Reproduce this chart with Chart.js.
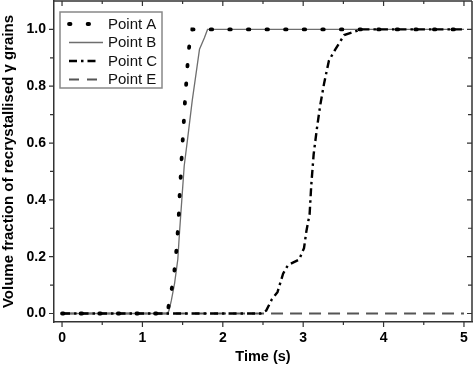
<!DOCTYPE html>
<html>
<head>
<meta charset="utf-8">
<script src="https://cdn.jsdelivr.net/npm/chart.js@4/dist/chart.umd.min.js"></script>
<style>
html,body{margin:0;padding:0;background:#fff;}
#wrap{width:474px;height:366px;}
</style>
</head>
<body>
<div id="wrap"><canvas id="c" width="474" height="366"></canvas></div>
<script>
// ---- data ----
const seriesNames = ['Point A', 'Point B', 'Point C', 'Point E'];

const timeA = [0, 1.31, 1.34, 1.38, 1.41, 1.43, 1.45, 1.465, 1.48, 1.49, 1.51, 1.53, 1.55, 1.57, 1.59, 1.62, 5];
const fracA = [0, 0, 0.05, 0.11, 0.18, 0.25, 0.33, 0.43, 0.50, 0.56, 0.65, 0.75, 0.83, 0.91, 0.96, 1.0, 1.0];

const timeB = [0, 1.31, 1.33, 1.36, 1.40, 1.44, 1.46, 1.49, 1.52, 1.56, 1.62, 1.68, 1.71, 1.77, 1.81, 5];
const fracB = [0, 0, 0.01, 0.046, 0.106, 0.19, 0.28, 0.40, 0.52, 0.61, 0.75, 0.87, 0.93, 0.97, 1.0, 1.0];

const timeC = [0, 2.47, 2.54, 2.61, 2.68, 2.75, 2.81, 2.95, 3.01, 3.04, 3.08, 3.10, 3.13, 3.17, 3.21, 3.26, 3.32, 3.40, 3.51, 3.72, 5];
const fracC = [0, 0, 0.01, 0.05, 0.075, 0.14, 0.17, 0.19, 0.23, 0.29, 0.35, 0.45, 0.56, 0.65, 0.73, 0.81, 0.89, 0.93, 0.98, 1.0, 1.0];

const timeE = [0, 5];
const fracE = [0, 0];

const xMajorTicks = [0, 1, 2, 3, 4, 5];
const xMinorTicks = [0.5, 1.5, 2.5, 3.5, 4.5];
const yMajorTicks = [0, 0.2, 0.4, 0.6, 0.8, 1.0];
const yMinorTicks = [0.1, 0.3, 0.5, 0.7, 0.9];

const xTitle = 'Time (s)';
const yTitle = 'Volume fraction of recrystallised \u03b3 grains';

function zip(xs, ys) { return xs.map((x, i) => ({x: x, y: ys[i]})); }

const FONT = "'Liberation Sans', Arial, sans-serif";
const FRAME = '#333333';

function noPad(s) { s.paddingLeft = 0; s.paddingRight = 0; s.paddingTop = 0; s.paddingBottom = 0; }

// ---- plugins ----
const framePlugin = {
  id: 'frameTicks',
  afterDraw(chart) {
    const ctx = chart.ctx;
    const a = chart.chartArea;
    const xs = chart.scales.x, ys = chart.scales.y;
    ctx.save();
    ctx.strokeStyle = FRAME;
    ctx.lineWidth = 1.5;
    ctx.setLineDash([]);
    ctx.beginPath();
    ctx.moveTo(a.left, a.top); ctx.lineTo(a.right, a.top);
    ctx.moveTo(a.right, a.top); ctx.lineTo(a.right, a.bottom);
    ctx.stroke();
    ctx.lineWidth = 1.2;
    ctx.beginPath();
    const xt = (v, len) => {
      const p = xs.getPixelForValue(v);
      ctx.moveTo(p, a.bottom); ctx.lineTo(p, a.bottom + len);
      ctx.moveTo(p, a.top); ctx.lineTo(p, a.top + len);
    };
    const yt = (v, len) => {
      const p = ys.getPixelForValue(v);
      ctx.moveTo(a.left, p); ctx.lineTo(a.left - len, p);
      ctx.moveTo(a.right, p); ctx.lineTo(a.right - len, p);
    };
    xMajorTicks.forEach(v => xt(v, 5));
    xMinorTicks.forEach(v => xt(v, 3));
    yMajorTicks.forEach(v => yt(v, 5));
    yMinorTicks.forEach(v => yt(v, 4));
    ctx.stroke();
    ctx.restore();
  }
};

const legendPlugin = {
  id: 'innerLegend',
  afterDraw(chart) {
    const ctx = chart.ctx;
    ctx.save();
    const bx = 60, by = 12, bw = 102, bh = 76;
    ctx.fillStyle = '#ffffff';
    ctx.fillRect(bx, by, bw, bh);
    ctx.strokeStyle = '#888888';
    ctx.lineWidth = 1.5;
    ctx.setLineDash([]);
    ctx.strokeRect(bx, by, bw, bh);
    const rowsY = [24, 42.5, 61, 79.5];
    const legendDash = [[1.5, 17.1], [], [8, 4, 2.5, 4], [10, 8]];
    const sampleEnd = [97, 103, 97, 97];
    chart.data.datasets.forEach((ds, i) => {
      const y = rowsY[i];
      ctx.strokeStyle = ds.borderColor;
      ctx.lineWidth = ds.borderWidth;
      ctx.lineCap = ds.borderCapStyle || 'butt';
      ctx.setLineDash(legendDash[i]);
      ctx.beginPath();
      ctx.moveTo(69, y); ctx.lineTo(sampleEnd[i], y);
      ctx.stroke();
      ctx.setLineDash([]);
      ctx.fillStyle = '#111111';
      ctx.font = '15px ' + FONT;
      ctx.textBaseline = 'middle';
      ctx.textAlign = 'left';
      ctx.fillText(ds.label, 108, y + 0.5);
    });
    ctx.restore();
  }
};

new Chart(document.getElementById('c'), {
  type: 'line',
  data: {
    datasets: [
      {label: seriesNames[0], data: zip(timeA, fracA), borderColor: '#000000', borderWidth: 3.8,
       borderDash: [1.5, 17.1], borderCapStyle: 'round', order: 0},
      {label: seriesNames[1], data: zip(timeB, fracB), borderColor: '#6e6e6e', borderWidth: 1.3, order: 2},
      {label: seriesNames[2], data: zip(timeC, fracC), borderColor: '#000000', borderWidth: 2.4,
       borderDash: [8, 4, 2.5, 4], order: 1},
      {label: seriesNames[3], data: zip(timeE, fracE), borderColor: '#555555', borderWidth: 1.8,
       borderDash: [12, 7], order: 3}
    ]
  },
  options: {
    responsive: false,
    animation: false,
    devicePixelRatio: 1,
    layout: {padding: {top: 1, right: 2, left: 0, bottom: 0}},
    elements: {point: {radius: 0, hoverRadius: 0}, line: {tension: 0, fill: false}},
    plugins: {legend: {display: false}, tooltip: {enabled: false}},
    events: [],
    scales: {
      x: {
        type: 'linear', min: -0.1, max: 5.1,
        afterFit(s) { s.height = 44; noPad(s); },
        grid: {display: false, drawTicks: false, tickLength: 0},
        border: {display: true, color: FRAME, width: 1.5},
        ticks: {stepSize: 1, includeBounds: false, padding: 8, color: '#000',
                font: {family: FONT, size: 14, weight: 'bold'}, maxRotation: 0,
                callback: v => Number.isInteger(v) ? String(v) : ''},
        title: {display: true, text: xTitle, color: '#000', padding: {top: 1, bottom: 0},
                font: {family: FONT, size: 14.5, weight: 'bold'}}
      },
      y: {
        type: 'linear', min: -0.03, max: 1.1,
        afterFit(s) { s.width = 54; noPad(s); },
        grid: {display: false, drawTicks: false, tickLength: 0},
        border: {display: true, color: FRAME, width: 1.5},
        ticks: {stepSize: 0.2, includeBounds: false, padding: 8, color: '#000',
                font: {family: FONT, size: 14, weight: 'bold'},
                callback: v => v.toFixed(1)},
        title: {display: true, text: yTitle, color: '#000', padding: {top: 0, bottom: 0},
                font: {family: FONT, size: 15, weight: 'bold'}}
      }
    }
  },
  plugins: [framePlugin, legendPlugin]
});
</script>
</body>
</html>
